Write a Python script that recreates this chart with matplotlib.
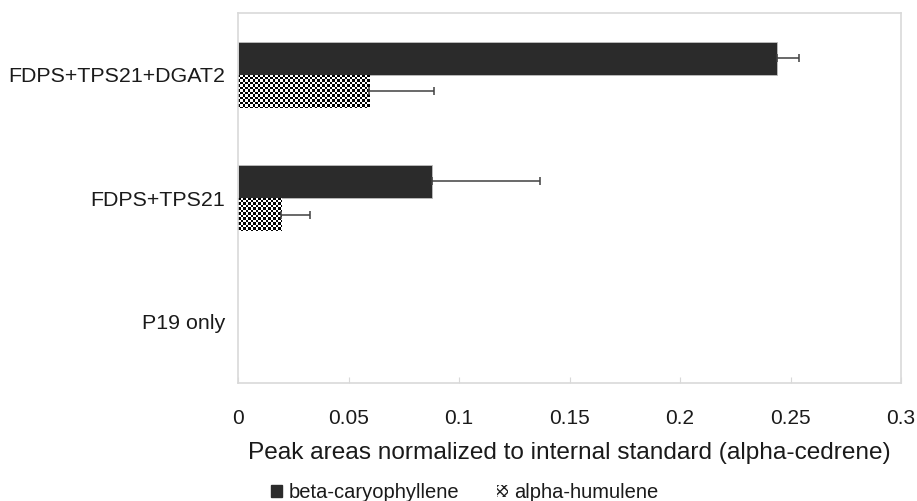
import numpy as np
import matplotlib
matplotlib.use("Agg")
import matplotlib.pyplot as plt
from matplotlib.patches import Patch

categories = ["P19 only", "FDPS+TPS21", "FDPS+TPS21+DGAT2"]
beta_caryophyllene = [0.0, 0.0876, 0.2437]
beta_err = [0.0, 0.049, 0.010]
alpha_humulene = [0.0, 0.0195, 0.0595]
alpha_err = [0.0, 0.013, 0.029]
xticks = [0, 0.05, 0.1, 0.15, 0.2, 0.25, 0.3]
xtick_labels = ["0", "0.05", "0.1", "0.15", "0.2", "0.25", "0.3"]

plt.rcParams['font.family'] = ['Liberation Sans', 'DejaVu Sans']
text_color = "#1a1a1a"

fig = plt.figure(figsize=(9.17, 5.01), dpi=100)
ax = fig.add_axes([238/917, 1-383/501, (901-238)/917, (383-13)/501])

y = np.arange(len(categories))
h = 0.268
bvals = np.array(beta_caryophyllene)
avals = np.array(alpha_humulene)
dark = ax.barh(y + h/2, bvals, height=h, color="#2b2b2b",
               edgecolor="#bfbfbf", linewidth=0.6, zorder=2)
for b, v in zip(dark.patches, bvals):
    if v <= 0:
        b.set_visible(False)
hat = ax.barh(y - h/2, avals, height=h, color="white",
              edgecolor="none", linewidth=0, zorder=2)

ax.set_xlim(0, 0.3)
ax.set_ylim(-0.5, len(categories) - 0.5)

# checkerboard fill for alpha-humulene bars
ny, nx = 150, 268
cb = (np.add.outer(np.arange(ny), np.arange(nx)) % 2).astype(float)
for b, v in zip(hat.patches, avals):
    if v <= 0:
        b.set_visible(False)
        continue
    im = ax.imshow(cb, cmap="gray", vmin=0, vmax=1, extent=(0, 0.3, -0.5, 2.5),
                   aspect="auto", interpolation="nearest", zorder=2.5, origin="lower")
    im.set_clip_path(b)

bm = np.array(beta_err) > 0
am = np.array(alpha_err) > 0
ax.errorbar(bvals[bm], (y + h/2)[bm],
            xerr=[np.zeros(bm.sum()), np.array(beta_err)[bm]], fmt="none",
            ecolor="#404040", elinewidth=1.1, capsize=2.9, capthick=1.1, zorder=3)
ax.errorbar(avals[am], (y - h/2)[am],
            xerr=[np.zeros(am.sum()), np.array(alpha_err)[am]], fmt="none",
            ecolor="#404040", elinewidth=1.1, capsize=2.9, capthick=1.1, zorder=3)

for s in ax.spines.values():
    s.set_color("#d9d9d9")
    s.set_linewidth(1.2)

ax.set_yticks(y)
ax.set_yticklabels(categories, fontsize=15.4, color=text_color)
ax.tick_params(axis="y", length=0, pad=9)
ax.set_xticks(xticks)
ax.set_xticklabels(xtick_labels, fontsize=15, color=text_color)
ax.tick_params(axis="x", direction="in", length=4, color="#d9d9d9", pad=19)
ax.set_xlabel("Peak areas normalized to internal standard (alpha-cedrene)",
              fontsize=17.6, color=text_color, labelpad=10)

handles = [Patch(facecolor="#2b2b2b", edgecolor="#2b2b2b"),
           Patch(facecolor="white", edgecolor="#222222", hatch="xxxx", linewidth=0)]
fig.legend(handles, ["beta-caryophyllene", "alpha-humulene"], loc="center",
           bbox_to_anchor=(465/917, 1-493/501), ncol=2, frameon=False,
           fontsize=14.5, handlelength=0.55, handleheight=0.55, handletextpad=0.3,
           columnspacing=1.9, labelcolor=text_color)

fig.savefig("out.png", dpi=100)
